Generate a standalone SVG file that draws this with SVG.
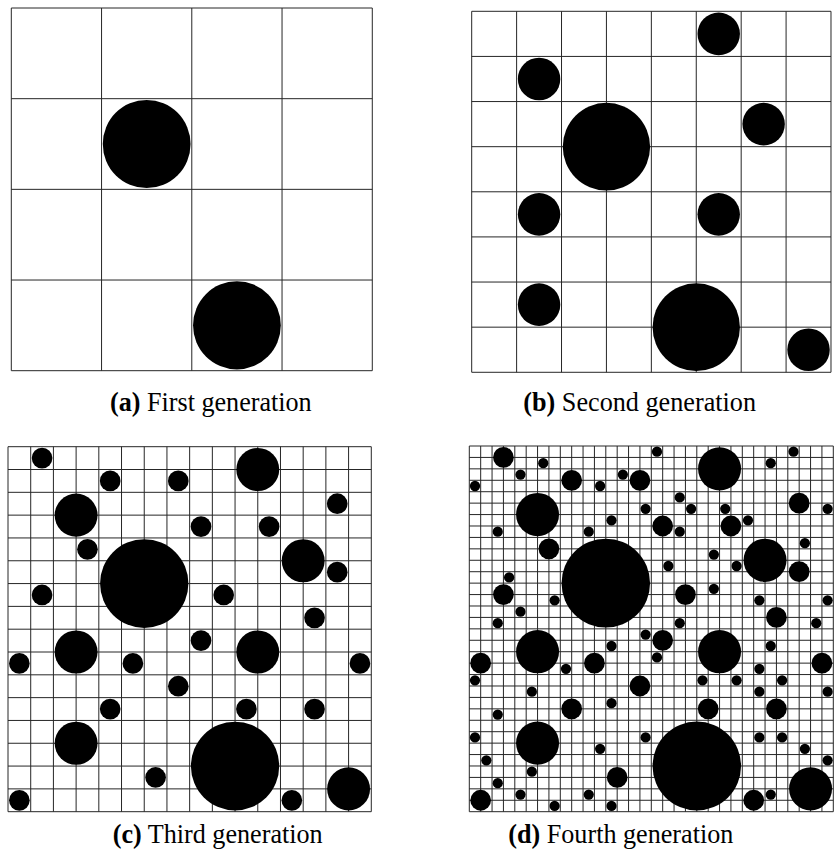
<svg xmlns="http://www.w3.org/2000/svg" xmlns:xlink="http://www.w3.org/1999/xlink" width="835" height="853" viewBox="0 0 835 853">
<style>
.grid{fill:none;stroke:#262626;stroke-width:1;vector-effect:non-scaling-stroke}
.dot{fill:#000}
.cap{font-family:"Liberation Serif","Times New Roman",serif;font-size:27px;fill:#000}
.lbl{font-weight:bold}
</style>
<defs>
<path id="grid4" class="grid" d="M0 0H32M0 8H32M0 16H32M0 24H32M0 32H32M0 0V32M8 0V32M16 0V32M24 0V32M32 0V32"/>
<path id="grid8" class="grid" d="M0 0H32M0 4H32M0 8H32M0 12H32M0 16H32M0 20H32M0 24H32M0 28H32M0 32H32M0 0V32M4 0V32M8 0V32M12 0V32M16 0V32M20 0V32M24 0V32M28 0V32M32 0V32"/>
<path id="grid16" class="grid" d="M0 0H32M0 2H32M0 4H32M0 6H32M0 8H32M0 10H32M0 12H32M0 14H32M0 16H32M0 18H32M0 20H32M0 22H32M0 24H32M0 26H32M0 28H32M0 30H32M0 32H32M0 0V32M2 0V32M4 0V32M6 0V32M8 0V32M10 0V32M12 0V32M14 0V32M16 0V32M18 0V32M20 0V32M22 0V32M24 0V32M26 0V32M28 0V32M30 0V32M32 0V32"/>
<path id="grid32" class="grid" d="M0 0H32M0 1H32M0 2H32M0 3H32M0 4H32M0 5H32M0 6H32M0 7H32M0 8H32M0 9H32M0 10H32M0 11H32M0 12H32M0 13H32M0 14H32M0 15H32M0 16H32M0 17H32M0 18H32M0 19H32M0 20H32M0 21H32M0 22H32M0 23H32M0 24H32M0 25H32M0 26H32M0 27H32M0 28H32M0 29H32M0 30H32M0 31H32M0 32H32M0 0V32M1 0V32M2 0V32M3 0V32M4 0V32M5 0V32M6 0V32M7 0V32M8 0V32M9 0V32M10 0V32M11 0V32M12 0V32M13 0V32M14 0V32M15 0V32M16 0V32M17 0V32M18 0V32M19 0V32M20 0V32M21 0V32M22 0V32M23 0V32M24 0V32M25 0V32M26 0V32M27 0V32M28 0V32M29 0V32M30 0V32M31 0V32M32 0V32"/>
<g id="gen1" class="dot">
<circle cx="12" cy="12" r="3.89"/><circle cx="20" cy="28" r="3.89"/>
</g>
<g id="gen2" class="dot">
<circle cx="22" cy="2" r="1.89"/><circle cx="6" cy="6" r="1.89"/><circle cx="26" cy="10" r="1.89"/><circle cx="6" cy="18" r="1.89"/><circle cx="22" cy="18" r="1.89"/><circle cx="6" cy="26" r="1.89"/><circle cx="30" cy="30" r="1.89"/>
</g>
<g id="gen3" class="dot">
<circle cx="3" cy="1" r="0.91"/><circle cx="9" cy="3" r="0.91"/><circle cx="15" cy="3" r="0.91"/><circle cx="29" cy="5" r="0.91"/><circle cx="17" cy="7" r="0.91"/><circle cx="23" cy="7" r="0.91"/><circle cx="7" cy="9" r="0.91"/><circle cx="29" cy="11" r="0.91"/><circle cx="3" cy="13" r="0.91"/><circle cx="19" cy="13" r="0.91"/><circle cx="27" cy="15" r="0.91"/><circle cx="17" cy="17" r="0.91"/><circle cx="1" cy="19" r="0.91"/><circle cx="11" cy="19" r="0.91"/><circle cx="31" cy="19" r="0.91"/><circle cx="15" cy="21" r="0.91"/><circle cx="9" cy="23" r="0.91"/><circle cx="21" cy="23" r="0.91"/><circle cx="27" cy="23" r="0.91"/><circle cx="13" cy="29" r="0.91"/><circle cx="1" cy="31" r="0.91"/><circle cx="25" cy="31" r="0.91"/>
</g>
<g id="gen4" class="dot">
<circle cx="16.5" cy="0.5" r="0.45"/><circle cx="28.5" cy="0.5" r="0.45"/><circle cx="6.5" cy="1.5" r="0.45"/><circle cx="26.5" cy="1.5" r="0.45"/><circle cx="4.5" cy="2.5" r="0.45"/><circle cx="13.5" cy="2.5" r="0.45"/><circle cx="0.5" cy="3.5" r="0.45"/><circle cx="11.5" cy="3.5" r="0.45"/><circle cx="18.5" cy="4.5" r="0.45"/><circle cx="15.5" cy="5.5" r="0.45"/><circle cx="19.5" cy="5.5" r="0.45"/><circle cx="22.5" cy="5.5" r="0.45"/><circle cx="31.5" cy="5.5" r="0.45"/><circle cx="12.5" cy="6.5" r="0.45"/><circle cx="24.5" cy="6.5" r="0.45"/><circle cx="2.5" cy="7.5" r="0.45"/><circle cx="10.5" cy="7.5" r="0.45"/><circle cx="18.5" cy="7.5" r="0.45"/><circle cx="29.5" cy="8.5" r="0.45"/><circle cx="21.5" cy="9.5" r="0.45"/><circle cx="17.5" cy="10.5" r="0.45"/><circle cx="23.5" cy="10.5" r="0.45"/><circle cx="3.5" cy="11.5" r="0.45"/><circle cx="21.5" cy="12.5" r="0.45"/><circle cx="7.5" cy="13.5" r="0.45"/><circle cx="25.5" cy="13.5" r="0.45"/><circle cx="31.5" cy="13.5" r="0.45"/><circle cx="4.5" cy="14.5" r="0.45"/><circle cx="2.5" cy="15.5" r="0.45"/><circle cx="18.5" cy="15.5" r="0.45"/><circle cx="30.5" cy="15.5" r="0.45"/><circle cx="15.5" cy="16.5" r="0.45"/><circle cx="12.5" cy="17.5" r="0.45"/><circle cx="26.5" cy="17.5" r="0.45"/><circle cx="16.5" cy="18.5" r="0.45"/><circle cx="8.5" cy="19.5" r="0.45"/><circle cx="25.5" cy="19.5" r="0.45"/><circle cx="0.5" cy="20.5" r="0.45"/><circle cx="20.5" cy="20.5" r="0.45"/><circle cx="23.5" cy="20.5" r="0.45"/><circle cx="27.5" cy="20.5" r="0.45"/><circle cx="5.5" cy="21.5" r="0.45"/><circle cx="25.5" cy="21.5" r="0.45"/><circle cx="31.5" cy="21.5" r="0.45"/><circle cx="12.5" cy="22.5" r="0.45"/><circle cx="2.5" cy="23.5" r="0.45"/><circle cx="0.5" cy="25.5" r="0.45"/><circle cx="15.5" cy="25.5" r="0.45"/><circle cx="25.5" cy="25.5" r="0.45"/><circle cx="27.5" cy="25.5" r="0.45"/><circle cx="11.5" cy="26.5" r="0.45"/><circle cx="29.5" cy="26.5" r="0.45"/><circle cx="1.5" cy="27.5" r="0.45"/><circle cx="31.5" cy="27.5" r="0.45"/><circle cx="5.5" cy="28.5" r="0.45"/><circle cx="2.5" cy="29.5" r="0.45"/><circle cx="4.5" cy="30.5" r="0.45"/><circle cx="10.5" cy="30.5" r="0.45"/><circle cx="26.5" cy="30.5" r="0.45"/><circle cx="7.5" cy="31.5" r="0.45"/><circle cx="12.5" cy="31.5" r="0.45"/>
</g>
</defs>
<rect width="835" height="853" fill="#fff"/>
<g id="panel-a" transform="translate(11.3,8) scale(11.281,11.334)">
<use href="#grid4" xlink:href="#grid4"/>
<use href="#gen1" xlink:href="#gen1"/>
</g>
<g id="panel-b" transform="translate(471.7,11.3) scale(11.228,11.281)">
<use href="#grid8" xlink:href="#grid8"/>
<use href="#gen1" xlink:href="#gen1"/>
<use href="#gen2" xlink:href="#gen2"/>
</g>
<g id="panel-c" transform="translate(8,446.7) scale(11.353,11.406)">
<use href="#grid16" xlink:href="#grid16"/>
<use href="#gen1" xlink:href="#gen1"/>
<use href="#gen2" xlink:href="#gen2"/>
<use href="#gen3" xlink:href="#gen3"/>
</g>
<g id="panel-d" transform="translate(469.3,446) scale(11.375,11.428)">
<use href="#grid32" xlink:href="#grid32"/>
<use href="#gen1" xlink:href="#gen1"/>
<use href="#gen2" xlink:href="#gen2"/>
<use href="#gen3" xlink:href="#gen3"/>
<use href="#gen4" xlink:href="#gen4"/>
</g>
<g id="captions" class="cap">
<text x="110" y="411" textLength="201.7" lengthAdjust="spacingAndGlyphs"><tspan class="lbl">(a)</tspan> First generation</text>
<text x="523.3" y="411" textLength="232.7" lengthAdjust="spacingAndGlyphs"><tspan class="lbl">(b)</tspan> Second generation</text>
<text x="112.7" y="843" textLength="210" lengthAdjust="spacingAndGlyphs"><tspan class="lbl">(c)</tspan> Third generation</text>
<text x="508.3" y="843" textLength="225" lengthAdjust="spacingAndGlyphs"><tspan class="lbl">(d)</tspan> Fourth generation</text>
</g>
</svg>
